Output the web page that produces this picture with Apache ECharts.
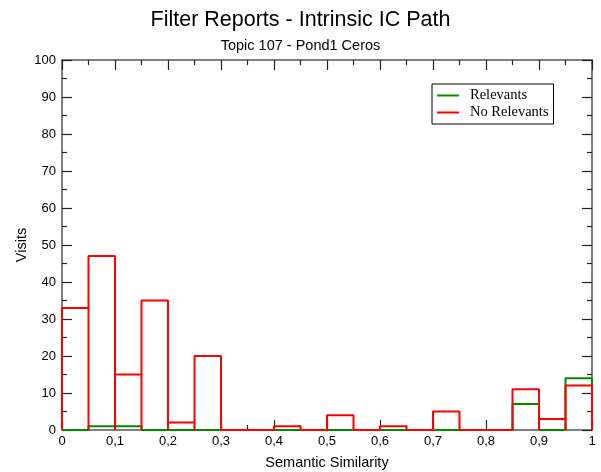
<!DOCTYPE html>
<html>
<head>
<meta charset="utf-8">
<script src="https://cdn.jsdelivr.net/npm/echarts@6/dist/echarts.min.js"></script>
<style>
  html, body { margin: 0; padding: 0; background: #fff; }
  #chart { width: 601px; height: 472px; }
</style>
</head>
<body>
<div id="chart"></div>
<script>
// Histogram bins: 20 bins of width 0.05 over semantic similarity [0, 1]
const binEdges = [0, 0.05, 0.1, 0.15, 0.2, 0.25, 0.3, 0.35, 0.4, 0.45, 0.5,
                  0.55, 0.6, 0.65, 0.7, 0.75, 0.8, 0.85, 0.9, 0.95, 1];
const relevants   = [0, 1, 1, 0, 0, 0, 0, 0, 0, 0, 0, 0, 0, 0, 0, 0, 0, 7, 0, 14];
const noRelevants = [33, 47, 15, 35, 2, 20, 0, 0, 1, 0, 4, 0, 1, 0, 5, 0, 0, 11, 3, 12];
const xTicks = [0, 0.1, 0.2, 0.3, 0.4, 0.5, 0.6, 0.7, 0.8, 0.9, 1];
const yTicks = [0, 10, 20, 30, 40, 50, 60, 70, 80, 90, 100];

// Outline of each bin: up the left edge, across the top, down the right edge
function outline(counts) {
  const pts = [];
  counts.forEach((v, i) => {
    const x0 = binEdges[i], x1 = binEdges[i + 1];
    pts.push([x0, 0], [x0, v], [x1, v], [x1, 0]);
  });
  return pts;
}

const axisColor = '#555';
const tickColor = '#222';
const font = 'Liberation Sans, Arial, Helvetica, sans-serif';

function xLabel(v) {
  if (v === 0 || v === 1) return String(v);
  return v.toFixed(1).replace('.', ',');
}

const baseX = {
  type: 'value', min: xTicks[0], max: xTicks[xTicks.length - 1],
  interval: xTicks[1] - xTicks[0],
  axisLine: { show: true, onZero: false, lineStyle: { color: axisColor, width: 1.5 } },
  axisTick: { show: true, inside: true, length: 10, lineStyle: { color: tickColor, width: 1.2 } },
  minorTick: { show: true, splitNumber: 2, length: 5, lineStyle: { color: tickColor, width: 1.2 } },
  splitLine: { show: false }
};
const baseY = {
  type: 'value', min: yTicks[0], max: yTicks[yTicks.length - 1],
  interval: yTicks[1] - yTicks[0],
  axisLine: { show: true, onZero: false, lineStyle: { color: axisColor, width: 1.5 } },
  axisTick: { show: true, inside: true, length: 10, lineStyle: { color: tickColor, width: 1.2 } },
  minorTick: { show: true, splitNumber: 2, length: 5, lineStyle: { color: tickColor, width: 1.2 } },
  splitLine: { show: false }
};

const chart = echarts.init(document.getElementById('chart'), null, { renderer: 'canvas' });
chart.setOption({
  backgroundColor: '#fff',
  animation: false,
  title: [
    { text: 'Filter Reports - Intrinsic IC Path', left: 'center', top: 4,
      textStyle: { fontFamily: font, fontSize: 21.5, fontWeight: 'normal', color: '#000' } },
    { text: 'Topic 107 - Pond1 Ceros', left: 'center', top: 33,
      textStyle: { fontFamily: font, fontSize: 14.5, fontWeight: 'normal', color: '#000' } }
  ],
  grid: { left: 62, right: 9, top: 60, bottom: 42, containLabel: false, outerBoundsMode: 'none' },
  xAxis: [
    Object.assign({}, baseX, {
      position: 'bottom',
      name: 'Semantic Similarity', nameLocation: 'middle', nameGap: 25,
      nameMoveOverlap: false,
      nameTextStyle: { fontFamily: font, fontSize: 14.5, color: '#000' },
      axisLabel: { show: true, margin: 5, formatter: xLabel,
        fontFamily: font, fontSize: 13, color: '#000' }
    }),
    Object.assign({}, baseX, { position: 'top', axisLabel: { show: false } })
  ],
  yAxis: [
    Object.assign({}, baseY, {
      position: 'left',
      name: 'Visits', nameLocation: 'middle', nameGap: 33, nameRotate: 90,
      nameMoveOverlap: false,
      nameTextStyle: { fontFamily: font, fontSize: 14.5, color: '#000' },
      axisLabel: { show: true, margin: 6, fontFamily: font, fontSize: 13, color: '#000' }
    }),
    Object.assign({}, baseY, { position: 'right', axisLabel: { show: false } })
  ],
  legend: {
    left: 432, top: 84,
    orient: 'vertical',
    backgroundColor: '#fff',
    borderColor: '#000', borderWidth: 1, borderRadius: 0,
    padding: [4, 5, 4, 5],
    itemGap: 2,
    itemWidth: 22, itemHeight: 2,
    icon: 'rect',
    textStyle: { fontFamily: 'Liberation Serif, Times New Roman, serif', fontSize: 14.5, color: '#000',
      padding: [0, 0, 0, 6] },
    data: ['Relevants', 'No Relevants']
  },
  series: [
    { name: 'Relevants', type: 'line', data: outline(relevants),
      symbol: 'none', color: '#008a00',
      lineStyle: { color: '#008a00', width: 2 }, z: 3 },
    { name: 'No Relevants', type: 'line', data: outline(noRelevants),
      symbol: 'none', color: '#ff0000',
      lineStyle: { color: '#ff0000', width: 2 }, z: 4 }
  ]
});
</script>
</body>
</html>
